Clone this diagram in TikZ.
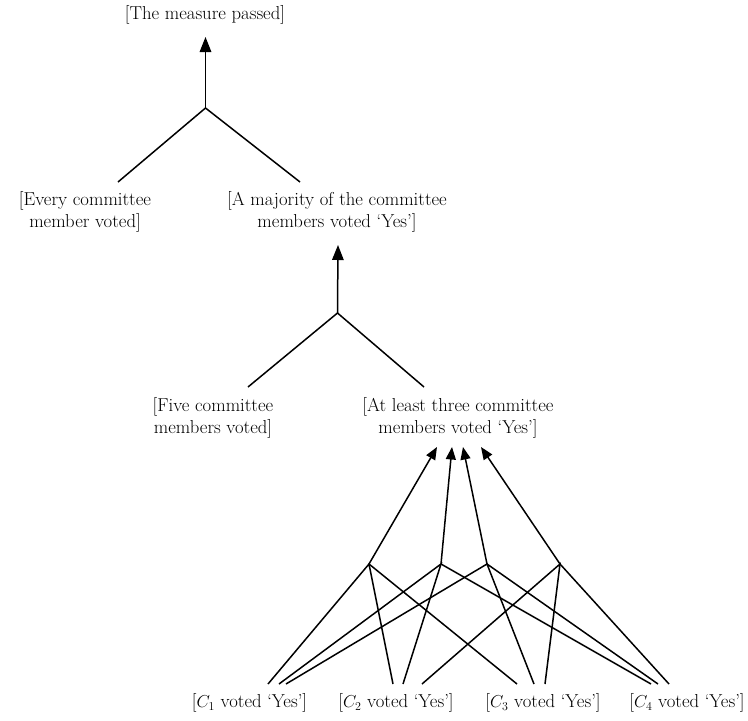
\documentclass[tikz,border=0pt]{standalone}
\usetikzlibrary{arrows.meta}
\begin{document}
\begin{tikzpicture}[x=1pt,y=-1pt, line width=1.5pt,
  lbl/.style={inner sep=0pt, align=center, font=\fontsize{18.7}{21.5}\selectfont},
  arr/.style={-{Triangle[length=15pt,width=11.5pt]}},
  arrs/.style={-{Triangle[length=12.5pt,width=10pt]}}]
\useasboundingbox (0,0) rectangle (748,721);
% labels
\node[lbl] (top) at (205,15) {[The measure passed]};
\node[lbl] (every) at (85,212) {[Every committee\\member voted]};
\node[lbl] (major) at (337,212) {[A majority of the committee\\members voted ‘Yes’]};
\node[lbl] (five) at (213,418) {[Five committee\\members voted]};
\node[lbl] (three) at (458,418) {[At least three committee\\members voted ‘Yes’]};
\node[lbl] (c1) at (249.5,703) {[$C_1$ voted ‘Yes’]};
\node[lbl] (c2) at (396,703) {[$C_2$ voted ‘Yes’]};
\node[lbl] (c3) at (543,703) {[$C_3$ voted ‘Yes’]};
\node[lbl] (c4) at (687,703) {[$C_4$ voted ‘Yes’]};
% junctions and connector ends
\coordinate (j0) at (205.5,108);
\coordinate (t0) at (205.5,37);
\coordinate (e0l) at (118,182);
\coordinate (e0r) at (300,182);
\coordinate (j1) at (337.5,313);
\coordinate (t1) at (338,245);
\coordinate (e1l) at (248,387);
\coordinate (e1r) at (424,387);
\coordinate (k1) at (369,564);
\coordinate (k2) at (441,564);
\coordinate (k3) at (487,564);
\coordinate (k4) at (560,564);
\coordinate (u1) at (437,447);
\coordinate (u2) at (452,447);
\coordinate (u3) at (463,447);
\coordinate (u4) at (481,447);
\coordinate (a1) at (268,684);
\coordinate (a2) at (279,684);
\coordinate (a3) at (286,684);
\coordinate (b1) at (393,684);
\coordinate (b2) at (403,684);
\coordinate (b4) at (422,684);
\coordinate (c1e) at (517,684);
\coordinate (c3e) at (534,684);
\coordinate (c4e) at (545,684);
\coordinate (d2) at (651,684);
\coordinate (d3) at (658,684);
\coordinate (d4) at (669,684);
% top tree
\draw (e0l) -- (j0) -- (e0r);
\draw[arr] (j0) -- (t0);
% middle tree
\draw (e1l) -- (j1) -- (e1r);
\draw[arr] (j1) -- (t1);
% bottom web
\draw (a1) -- (k1) -- (b1); \draw (k1) -- (c1e);
\draw (a2) -- (k2) -- (b2); \draw (k2) -- (d2);
\draw (a3) -- (k3) -- (c3e); \draw (k3) -- (d3);
\draw (b4) -- (k4) -- (c4e); \draw (k4) -- (d4);
\draw[arrs] (k1) -- (u1);
\draw[arrs] (k2) -- (u2);
\draw[arrs] (k3) -- (u3);
\draw[arrs] (k4) -- (u4);
\end{tikzpicture}
\end{document}
